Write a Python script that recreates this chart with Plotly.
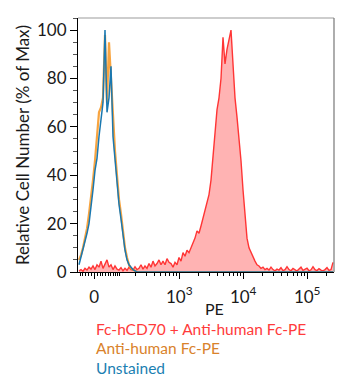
import numpy as np
import plotly.graph_objects as go

# Biexponential-style display transform for the PE channel
C = 94.0


def T(v):
    return np.arcsinh(np.asarray(v, dtype=float) / C)


PE_MIN, PE_MAX = -58, 262144
N_BINS = 128

# Histogram counts (% of max) per display channel
red_counts = [
    0.5, 1.0, 0.3, 1.5, 0.8, 2.0, 1.2, 2.5, 1.0, 3.0,
    2.0, 4.5, 1.5, 3.5, 5.0, 2.0, 3.0, 1.0, 2.5, 1.2,
    0.8, 1.8, 0.5, 1.5, 0.7, 2.0, 1.0, 0.8, 2.2, 1.0,
    1.5, 3.0, 1.2, 2.5, 1.5, 3.5, 2.0, 4.5, 2.5, 3.5,
    5.0, 3.0, 4.5, 3.0, 5.5, 4.0,
    3.5, 2.0, 4.0, 3.0, 6.0, 4.5, 8.0, 6.5, 9.0, 8.0,
    10.0, 12.0, 14.0, 17.0, 16.0, 19.0, 22.0, 26.0, 28.0, 32.0,
    38.0, 48.0, 55.0, 67.0, 72.0, 80.0, 97.0, 86.0, 92.0, 96.0,
    100.0, 86.0, 72.0, 64.0, 56.0, 46.0, 34.0, 23.0, 14.0, 10.0,
    8.0, 6.0, 4.5, 3.0, 2.5, 1.5, 2.0, 1.0,
    1.5, 0.8, 2.0, 1.0, 0.5, 1.2, 0.8, 1.8, 0.6, 1.0,
    2.2, 1.0, 0.5, 1.5, 0.8, 0.4, 1.2, 2.0, 0.7, 1.0,
    1.6, 0.5, 0.9, 2.2, 1.0, 0.6, 1.4, 0.8, 0.5, 1.0,
    1.8, 0.7, 1.0, 4.0,
]
orange_counts = [
    5, 7, 10, 14, 18, 24, 30, 38, 46, 56,
    66, 68, 72, 98, 70, 95, 78, 62, 50, 40,
    30, 24, 16, 10, 6, 3, 1.5, 1, 0.5, 0,
]
blue_counts = [
    3, 6, 9, 12, 16, 20, 26, 34, 42, 47,
    56, 64, 70, 100, 66, 72, 85, 56, 46, 36,
    28, 22, 14, 9, 5, 3, 2, 1, 0.5, 0,
]
orange_counts = orange_counts + [0] * (N_BINS - len(orange_counts))
blue_counts = blue_counts + [0] * (N_BINS - len(blue_counts))

major_ticks = [0, 1e3, 1e4, 1e5]
major_labels = ["0", "10<sup>3</sup>", "10<sup>4</sup>", "10<sup>5</sup>"]
minor_ticks = ([-50, -40, -30, -20, -10] + list(range(10, 100, 10))
               + list(range(100, 1000, 100)) + list(range(2000, 10000, 1000))
               + list(range(20000, 100000, 10000)) + [200000])

legend_items = ["Fc-hCD70 + Anti-human Fc-PE", "Anti-human Fc-PE", "Unstained"]
legend_colors = ["#ff3b3b", "#d9822b", "#1b80b2"]

u0, u1 = float(T(PE_MIN)), float(T(PE_MAX))
edges = np.linspace(u0, u1, N_BINS + 1)
centers = (edges[:-1] + edges[1:]) / 2

fig = go.Figure()
fig.add_trace(go.Scatter(
    x=centers, y=red_counts, mode="lines", fill="tozeroy",
    line=dict(color="#ff3535", width=1.4), fillcolor="#ffb3b3",
    hoverinfo="skip"))
fig.add_trace(go.Scatter(
    x=centers, y=orange_counts, mode="lines",
    line=dict(color="rgba(247,148,29,0.85)", width=2.2), hoverinfo="skip"))
fig.add_trace(go.Scatter(
    x=centers, y=blue_counts, mode="lines",
    line=dict(color="#1a78b0", width=1.5), hoverinfo="skip"))

font = "Lato, 'Open Sans', sans-serif"
fig.update_layout(
    width=349, height=377,
    margin=dict(l=78, r=15, t=18, b=105),
    paper_bgcolor="white", plot_bgcolor="white",
    showlegend=False,
    font=dict(family=font, size=17, color="#1a1a1a"),
    xaxis=dict(
        range=[u0, u1], showgrid=False, zeroline=False,
        showline=True, linecolor="black", linewidth=1.2,
        ticks="outside", ticklen=6, tickwidth=1.2, tickcolor="black",
        tickmode="array", tickvals=list(T(major_ticks)), ticktext=major_labels,
        tickfont=dict(size=17), ticklabelstandoff=3,
        minor=dict(tickmode="array", tickvals=list(T(minor_ticks)),
                   ticks="outside", ticklen=3, tickwidth=1, tickcolor="black",
                   showgrid=False),
    ),
    yaxis=dict(
        range=[0, 105], showgrid=False, zeroline=False,
        showline=True, linecolor="black", linewidth=1.2,
        ticks="outside", ticklen=7, tickwidth=1.2, tickcolor="black",
        tickmode="linear", tick0=0, dtick=20, tickfont=dict(size=17),
        minor=dict(dtick=5, ticks="outside", ticklen=4, tickwidth=1,
                   tickcolor="#555", showgrid=False),
        title=dict(text="Relative Cell Number (% of Max)", font=dict(size=17),
                   standoff=2),
    ),
    shapes=[
        dict(type="line", xref="paper", yref="paper", x0=0, x1=1, y0=1, y1=1,
             line=dict(color="#bdbdbd", width=1.5)),
        dict(type="line", xref="paper", yref="paper", x0=1, x1=1, y0=0, y1=1,
             line=dict(color="#777777", width=1.2)),
    ],
)

annotations = [dict(text="PE", xref="paper", yref="paper", x=0.535, y=-0.144,
                    xanchor="center", yanchor="middle", showarrow=False,
                    font=dict(size=16, color="#1a1a1a"))]
for k, (txt, col) in enumerate(zip(legend_items, legend_colors)):
    annotations.append(dict(
        text=txt, xref="paper", yref="paper", x=0.062, y=-0.225 - k * 0.076,
        xanchor="left", yanchor="middle", showarrow=False,
        font=dict(size=15.5, color=col)))
fig.update_layout(annotations=annotations)

fig.write_html("out.html")
